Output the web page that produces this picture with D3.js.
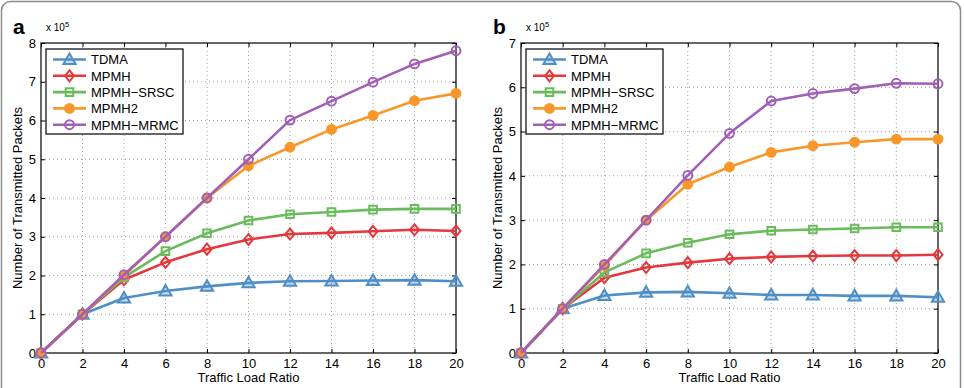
<!DOCTYPE html>
<html>
<head>
<meta charset="utf-8">
<script src="https://cdnjs.cloudflare.com/ajax/libs/d3/7.8.5/d3.min.js"></script>
<style>
  body { margin: 0; background: #fff; }
  svg { display: block; font-family: "Liberation Sans", Arial, sans-serif; }
  .grid line { stroke: #a0a0a0; stroke-width: 1; stroke-dasharray: 1,3; }
  .tick text { font-size: 13px; fill: #000; font-family: "Liberation Sans", Arial, sans-serif; }
  .axis path { display: none; }
  .axis line { stroke: #000; }
</style>
</head>
<body>
<svg width="964" height="388"></svg>
<script>
// Traffic load ratio (x axis)
const loadRatio = [0, 2, 4, 6, 8, 10, 12, 14, 16, 18, 20];
const seriesNames = ['TDMA', 'MPMH', 'MPMH\u2212SRSC', 'MPMH2', 'MPMH\u2212MRMC'];

// panel a values (x 10^5)
const tdmaA = [0, 1.0, 1.42, 1.60, 1.72, 1.81, 1.85, 1.86, 1.87, 1.88, 1.85];
const mpmhA = [0, 1.0, 1.89, 2.34, 2.68, 2.93, 3.07, 3.10, 3.14, 3.18, 3.15];
const srscA = [0, 1.0, 1.95, 2.63, 3.09, 3.42, 3.58, 3.64, 3.70, 3.72, 3.72];
const mpmh2A = [0, 1.0, 2.0, 3.0, 4.0, 4.83, 5.31, 5.77, 6.13, 6.51, 6.70];
const mrmcA = [0, 1.0, 2.02, 3.0, 4.0, 5.0, 6.01, 6.50, 6.99, 7.46, 7.80];

// panel b values (x 10^5)
const tdmaB = [0, 1.0, 1.30, 1.37, 1.38, 1.35, 1.31, 1.31, 1.29, 1.29, 1.26];
const mpmhB = [0, 1.0, 1.70, 1.93, 2.04, 2.13, 2.17, 2.19, 2.20, 2.20, 2.22];
const srscB = [0, 1.0, 1.82, 2.25, 2.49, 2.68, 2.76, 2.79, 2.81, 2.84, 2.84];
const mpmh2B = [0, 1.0, 1.97, 3.0, 3.81, 4.20, 4.53, 4.68, 4.76, 4.83, 4.83];
const mrmcB = [0, 1.0, 2.0, 3.0, 4.01, 4.96, 5.69, 5.86, 5.97, 6.09, 6.08];

const xTicks = [0, 2, 4, 6, 8, 10, 12, 14, 16, 18, 20];
const yTicksA = [0, 1, 2, 3, 4, 5, 6, 7, 8];
const yTicksB = [0, 1, 2, 3, 4, 5, 6, 7];

const colors = ['#4f8fc6', '#e4383c', '#69bb5b', '#f8982a', '#a15fb6'];
const shapes = ['triangle', 'diamond', 'square', 'dot', 'circle'];

const svg = d3.select('svg');

// outer rounded frame
svg.append('rect')
    .attr('x', 1.5).attr('y', 1.5)
    .attr('width', 959).attr('height', 420)
    .attr('rx', 9)
    .attr('fill', 'none')
    .attr('stroke', '#8c8c8c')
    .attr('stroke-width', 1.5);

function markerPath(shape) {
    if (shape === 'triangle') return d3.symbol(d3.symbolTriangle, 64)();
    if (shape === 'diamond') return 'M0,-5.5L4.5,0L0,5.5L-4.5,0Z';
    if (shape === 'square') return 'M-3.8,-3.8H3.8V3.8H-3.8Z';
    return d3.symbol(d3.symbolCircle, 62)();
}

function drawMarker(g, shape, color, x, y) {
    const filled = shape === 'dot';
    g.append('path')
        .attr('d', markerPath(shape))
        .attr('transform', `translate(${x},${y})` + (shape === 'triangle' ? ' translate(0,1)' : ''))
        .attr('fill', filled || shape === 'triangle' ? color : 'none')
        .attr('fill-opacity', shape === 'triangle' ? 0.35 : 1)
        .attr('stroke', color)
        .attr('stroke-width', 2);
}

function drawPanel(opt) {
    const x = d3.scaleLinear().domain([0, 20]).range([opt.left, opt.right]);
    const y = d3.scaleLinear().domain([0, opt.yMax]).range([353, 43]);
    const g = svg.append('g');

    // grid (dotted)
    const grid = g.append('g').attr('class', 'grid');
    grid.selectAll('.gx').data(xTicks.slice(1, -1)).enter().append('line')
        .attr('x1', d => x(d)).attr('x2', d => x(d))
        .attr('y1', y(opt.yMax)).attr('y2', y(0));
    grid.selectAll('.gy').data(opt.yTicks.slice(1, -1)).enter().append('line')
        .attr('y1', d => y(d)).attr('y2', d => y(d))
        .attr('x1', x(0)).attr('x2', x(20));

    // axes with inward ticks
    g.append('g').attr('class', 'axis')
        .attr('transform', `translate(0,${y(0)})`)
        .call(d3.axisBottom(x).tickValues(xTicks).tickFormat(d3.format('d'))
            .tickSizeInner(-4).tickSizeOuter(0).tickPadding(6));
    g.append('g').attr('class', 'axis')
        .attr('transform', `translate(${x(0)},0)`)
        .call(d3.axisLeft(y).tickValues(opt.yTicks).tickFormat(d3.format('d'))
            .tickSizeInner(-4).tickSizeOuter(0).tickPadding(5));
    g.append('g').attr('class', 'axis')
        .attr('transform', `translate(0,${y(opt.yMax)})`)
        .call(d3.axisTop(x).tickValues(xTicks).tickSizeInner(-4).tickSizeOuter(0).tickFormat(''));
    g.append('g').attr('class', 'axis')
        .attr('transform', `translate(${x(20)},0)`)
        .call(d3.axisRight(y).tickValues(opt.yTicks).tickSizeInner(-4).tickSizeOuter(0).tickFormat(''));

    // plot box
    g.append('rect')
        .attr('x', x(0)).attr('y', y(opt.yMax))
        .attr('width', x(20) - x(0)).attr('height', y(0) - y(opt.yMax))
        .attr('fill', 'none').attr('stroke', '#000').attr('stroke-width', 1.2);

    // series
    const line = d3.line().x((d, i) => x(loadRatio[i])).y(d => y(d));
    opt.series.forEach((vals, si) => {
        const sg = g.append('g');
        sg.append('path')
            .attr('d', line(vals))
            .attr('fill', 'none')
            .attr('stroke', colors[si])
            .attr('stroke-width', 2.6)
            .attr('stroke-linejoin', 'round');
        vals.forEach((v, i) => drawMarker(sg, shapes[si], colors[si], x(loadRatio[i]), y(v)));
    });

    // legend
    const lx = opt.left + 5, ly = 49;
    const lg = g.append('g');
    lg.append('rect')
        .attr('x', lx).attr('y', ly)
        .attr('width', 137).attr('height', 85)
        .attr('fill', '#fff').attr('stroke', '#000').attr('stroke-width', 1.2);
    seriesNames.forEach((name, i) => {
        const cy = ly + 10.5 + i * 16.3;
        lg.append('line')
            .attr('x1', lx + 7).attr('x2', lx + 40)
            .attr('y1', cy).attr('y2', cy)
            .attr('stroke', colors[i]).attr('stroke-width', 2.6);
        drawMarker(lg, shapes[i], colors[i], lx + 23.5, cy);
        lg.append('text')
            .attr('x', lx + 45).attr('y', cy + 4.8)
            .attr('font-size', '13px')
            .text(name);
    });

    // labels
    g.append('text')
        .attr('x', opt.left - 28).attr('y', 34)
        .attr('font-size', '21px').attr('font-weight', 'bold')
        .text(opt.letter);
    const mult = g.append('text')
        .attr('x', opt.left + 5).attr('y', 31)
        .attr('font-size', '10px');
    mult.append('tspan').text('x 10');
    mult.append('tspan').attr('dy', -4).attr('font-size', '7.5px').text('5');

    g.append('text')
        .attr('x', (x(0) + x(20)) / 2).attr('y', 382)
        .attr('text-anchor', 'middle')
        .attr('font-size', '13px')
        .text('Traffic Load Ratio');
    g.append('text')
        .attr('transform', `translate(${opt.left - 19},${(y(0) + y(opt.yMax)) / 2}) rotate(-90)`)
        .attr('text-anchor', 'middle')
        .attr('font-size', '13px')
        .text('Number of Transmitted Packets');
}

drawPanel({
    left: 41, right: 456, yMax: 8, yTicks: yTicksA, letter: 'a',
    series: [tdmaA, mpmhA, srscA, mpmh2A, mrmcA]
});
drawPanel({
    left: 521, right: 938, yMax: 7, yTicks: yTicksB, letter: 'b',
    series: [tdmaB, mpmhB, srscB, mpmh2B, mrmcB]
});
</script>
</body>
</html>
